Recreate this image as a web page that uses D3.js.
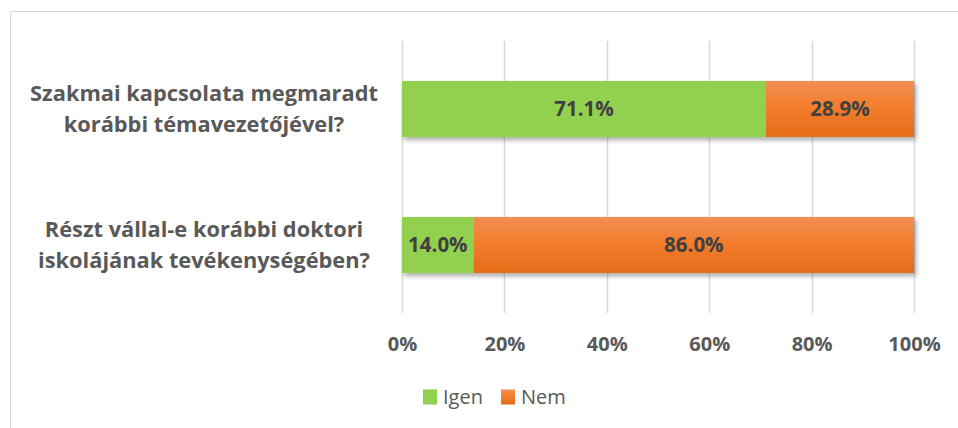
<!DOCTYPE html>
<html>
<head>
<meta charset="utf-8">
<script src="https://cdn.jsdelivr.net/npm/d3@7"></script>
<style>
  body { margin: 0; background: #fff; }
  svg { display: block; }
</style>
</head>
<body>
<svg id="chart" width="958" height="428"></svg>
<script>
// ---------- data ----------
const questions = [
  "Szakmai kapcsolata megmaradt|korábbi témavezetőjével?",
  "Részt vállal-e korábbi doktori|iskolájának tevékenységében?"
];
const seriesNames = ["Igen", "Nem"];
const igen = [71.1, 14.0];
const nem = [28.9, 86.0];
const xTicks = [0, 20, 40, 60, 80, 100];

const colors = { Igen: "#92d050", Nem: "#ef7b2e" };
const font = "'Open Sans', 'Noto Sans', sans-serif";

const svg = d3.select("#chart");
const W = 958, H = 428;

// frame (top + left edge only visible)
svg.append("path")
  .attr("d", `M10.5,${H} V11.5 H${W}`)
  .attr("fill", "none").attr("stroke", "#d9d9d9").attr("stroke-width", 1);

// gradients / shadow
const defs = svg.append("defs");
const og = defs.append("linearGradient").attr("id", "gNem").attr("x1", 0).attr("y1", 0).attr("x2", 0).attr("y2", 1);
og.append("stop").attr("offset", "0%").attr("stop-color", "#f18f55");
og.append("stop").attr("offset", "40%").attr("stop-color", "#f47f30");
og.append("stop").attr("offset", "100%").attr("stop-color", "#e46c1a");
const sh = defs.append("filter").attr("id", "shadow").attr("x", "-5%").attr("y", "-20%").attr("width", "110%").attr("height", "150%");
sh.append("feDropShadow").attr("dx", 2).attr("dy", 3).attr("stdDeviation", 2.5)
  .attr("flood-color", "#000").attr("flood-opacity", 0.35);

// ---------- scales ----------
const x = d3.scaleLinear().domain([0, 100]).range([402, 914]);
const y = d3.scaleBand().domain(d3.range(questions.length)).range([41, 313]).paddingInner(0.588).paddingOuter(0.294);

// gridlines
svg.append("g").selectAll("line").data(xTicks).join("line")
  .attr("x1", d => Math.round(x(d)) + 0.5).attr("x2", d => Math.round(x(d)) + 0.5)
  .attr("y1", 41).attr("y2", 313)
  .attr("stroke", "#d9d9d9").attr("stroke-width", 1.5);

// x axis labels
const xAxis = d3.axisBottom(x).tickValues(xTicks).tickFormat(d => d + "%").tickSize(0).tickPadding(0);
const ax = svg.append("g").attr("transform", "translate(0,344)").call(xAxis);
ax.select(".domain").remove();
ax.selectAll("text")
  .attr("font-family", font).attr("font-weight", 700).attr("font-size", 20)
  .attr("fill", "#595959").attr("dy", "0.36em");

// bars
const rows = questions.map((q, i) => ({ i, vals: [
  { key: "Igen", x0: 0, x1: igen[i], v: igen[i] },
  { key: "Nem", x0: igen[i], x1: igen[i] + nem[i], v: nem[i] }
]}));

const rowG = svg.append("g").selectAll("g").data(rows).join("g");
rowG.append("g").attr("filter", "url(#shadow)")
  .selectAll("rect").data(d => d.vals.map(v => ({ ...v, i: d.i }))).join("rect")
  .attr("x", d => x(d.x0)).attr("width", d => x(d.x1) - x(d.x0))
  .attr("y", d => y(d.i)).attr("height", y.bandwidth())
  .attr("fill", d => d.key === "Nem" ? "url(#gNem)" : colors.Igen);

rowG.selectAll("text.lbl").data(d => d.vals.map(v => ({ ...v, i: d.i }))).join("text")
  .attr("class", "lbl")
  .attr("x", d => (x(d.x0) + x(d.x1)) / 2).attr("y", d => y(d.i) + y.bandwidth() / 2)
  .attr("dy", "0.36em").attr("text-anchor", "middle")
  .attr("font-family", font).attr("font-weight", 700).attr("font-size", 20.5)
  .attr("fill", "#404040")
  .text(d => d.v.toFixed(1) + "%");

// category labels
svg.append("g").selectAll("text").data(questions).join("text")
  .attr("text-anchor", "middle")
  .attr("font-family", font).attr("font-weight", 700).attr("font-size", 21.8)
  .attr("fill", "#595959")
  .each(function (q, i) {
    const lines = q.split("|");
    const cy = y(i) + y.bandwidth() / 2;
    d3.select(this).selectAll("tspan").data(lines).join("tspan")
      .attr("x", 204)
      .attr("y", (d, k) => cy + (k - (lines.length - 1) / 2) * 31)
      .attr("dy", "0.35em")
      .text(d => d);
  });

// legend
const leg = svg.append("g").attr("transform", "translate(423,397)");
const li = leg.selectAll("g").data(seriesNames).join("g")
  .attr("transform", (d, i) => `translate(${i * 78},0)`);
li.append("rect").attr("x", 0).attr("y", -7.5).attr("width", 14).attr("height", 15)
  .attr("fill", d => d === "Nem" ? "url(#gNem)" : colors[d]);
li.append("text").attr("x", 20).attr("dy", "0.35em")
  .attr("font-family", font).attr("font-size", 20).attr("fill", "#595959")
  .text(d => d);
</script>
</body>
</html>
